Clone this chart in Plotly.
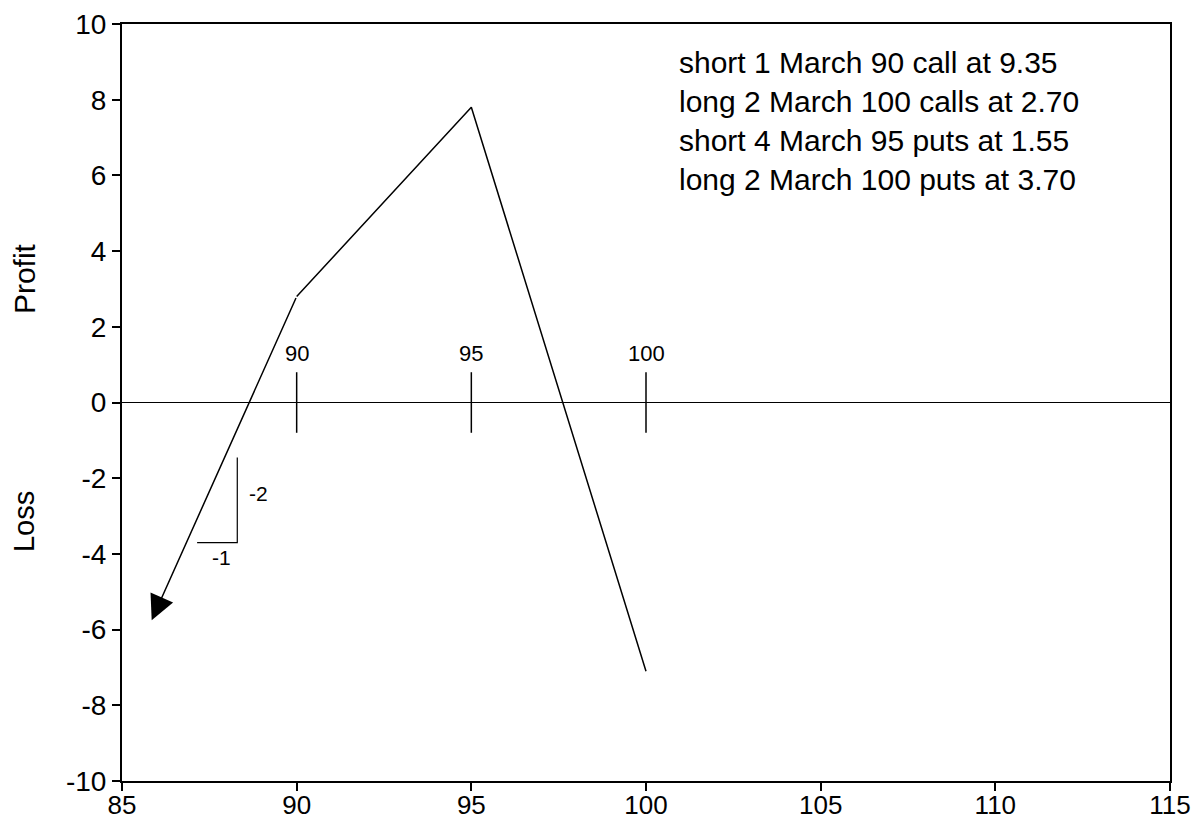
import plotly.graph_objects as go

# payoff diagram values
strikes = [90, 95, 100]
payoff = [2.8, 7.8, -7.1]
arrow_tip = (85.85, -5.75)   # where the left leg leaves the chart
strike_labels = ["90", "95", "100"]

slope_x = [87.15, 88.3, 88.3]
slope_y = [-3.7, -3.7, -1.45]
slope_labels = ["-2", "-1"]
slope_label_x = [88.9, 87.85]
slope_label_y = [-2.4, -4.1]

x_ticks = [85, 90, 95, 100, 105, 110, 115]
y_ticks = [-10, -8, -6, -4, -2, 0, 2, 4, 6, 8, 10]

position_lines = [
    "short 1 March 90 call at 9.35",
    "long 2 March 100 calls at 2.70",
    "short 4 March 95 puts at 1.55",
    "long 2 March 100 puts at 3.70",
]

FONT = "Liberation Sans, Arial, Helvetica, sans-serif"
tick_half = 0.8

fig = go.Figure()

# main payoff line from 90 to 100
fig.add_trace(go.Scatter(x=strikes, y=payoff, mode="lines",
                         line=dict(color="black", width=1.5),
                         hoverinfo="skip", showlegend=False))

# small strike marks on the zero line
tx, ty = [], []
for k in strikes:
    tx += [k, k, None]
    ty += [-tick_half, tick_half, None]
fig.add_trace(go.Scatter(x=tx, y=ty, mode="lines",
                         line=dict(color="black", width=1.5),
                         hoverinfo="skip", showlegend=False))

# slope triangle
fig.add_trace(go.Scatter(x=slope_x, y=slope_y, mode="lines",
                         line=dict(color="black", width=1.2),
                         hoverinfo="skip", showlegend=False))

# left leg drawn as an arrow
fig.add_annotation(x=arrow_tip[0], y=arrow_tip[1], ax=strikes[0], ay=payoff[0],
                   xref="x", yref="y", axref="x", ayref="y", text="",
                   showarrow=True, arrowhead=2, arrowsize=3.3, arrowwidth=1.5,
                   arrowcolor="black", standoff=0)

for k, lab in zip(strikes, strike_labels):
    fig.add_annotation(x=k, y=1.3, text=lab, showarrow=False,
                       font=dict(size=22, family=FONT, color="black"))

for lab, x, y in zip(slope_labels, slope_label_x, slope_label_y):
    fig.add_annotation(x=x, y=y, text=lab, showarrow=False,
                       font=dict(size=21, family=FONT, color="black"))

fig.add_annotation(x=100.9, y=7.45, text="<br>".join(position_lines),
                   showarrow=False, xanchor="left", yanchor="middle", align="left",
                   font=dict(size=30, family=FONT, color="black"))

fig.add_annotation(x=-0.0935, y=3.26, xref="paper", yref="y", text="Profit",
                   textangle=-90, showarrow=False, xanchor="center",
                   font=dict(size=30, family=FONT, color="black"))
fig.add_annotation(x=-0.0935, y=-3.16, xref="paper", yref="y", text="Loss",
                   textangle=-90, showarrow=False, xanchor="center",
                   font=dict(size=29, family=FONT, color="black"))

axis_style = dict(showgrid=False, showline=True, linecolor="black", linewidth=2,
                  mirror=True, ticks="outside", ticklen=8, tickwidth=1.5,
                  tickcolor="black", automargin=False)

fig.update_xaxes(range=[85, 115], tickvals=x_ticks,
                 ticktext=[str(v) for v in x_ticks], zeroline=False,
                 ticklabelstandoff=-8,
                 tickfont=dict(size=26, family=FONT, color="black"), **axis_style)
fig.update_yaxes(range=[-10, 10], tickvals=y_ticks,
                 ticktext=[str(v) for v in y_ticks], zeroline=True,
                 zerolinecolor="black", zerolinewidth=1,
                 tickfont=dict(size=28, family=FONT, color="black"), **axis_style)

fig.update_layout(width=1200, height=823,
                  margin=dict(l=122, r=30, t=24, b=42),
                  paper_bgcolor="white", plot_bgcolor="white",
                  showlegend=False)

fig.write_html("out.html", config={"displayModeBar": False},
               post_script="document.body.style.margin='0';")
